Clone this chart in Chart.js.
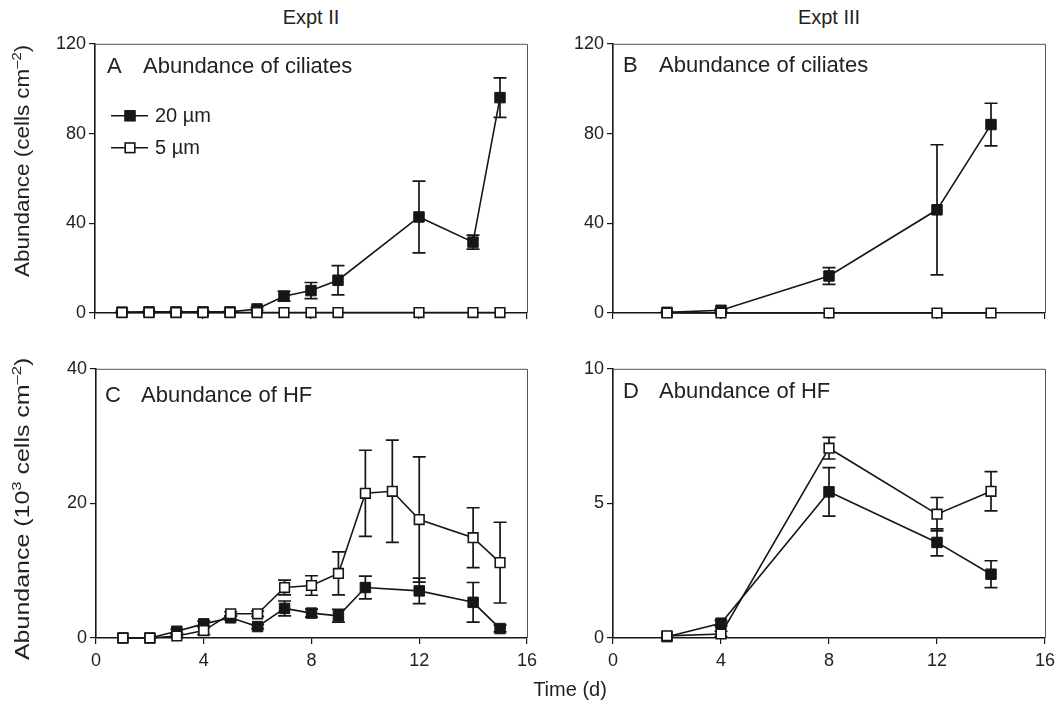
<!DOCTYPE html>
<html>
<head>
<meta charset="utf-8">
<title>Abundance of ciliates and HF</title>
<script src="https://cdn.jsdelivr.net/npm/chart.js@4.4.0/dist/chart.umd.min.js"></script>
<style>
  body { margin: 0; background: #fff; overflow: hidden; }
  #wrap { position: relative; width: 1056px; height: 711px; overflow: hidden; font-family: "Liberation Sans", Arial, sans-serif; color: #222; }
  canvas { position: absolute; }
  .lbl { position: absolute; font-size: 20px; white-space: nowrap; transform: translateX(-50%); }
</style>
</head>
<body>
<div id="wrap">
  <div class="lbl" style="left:311px; top:6px;">Expt II</div>
  <div class="lbl" style="left:829px; top:6px;">Expt III</div>
  <canvas id="cA" width="550" height="300" style="left:0; top:30px;"></canvas>
  <canvas id="cB" width="530" height="300" style="left:540px; top:30px;"></canvas>
  <canvas id="cC" width="550" height="325" style="left:0; top:355px;"></canvas>
  <canvas id="cD" width="530" height="325" style="left:540px; top:355px;"></canvas>
  <div class="lbl" style="left:570px; top:678px;">Time (d)</div>
</div>
<script>
// Expt II, ciliates (cells cm-2)
const daysA = [1, 2, 3, 4, 5, 6, 7, 8, 9, 12, 14, 15];
const ciliII20 = [0.4, 0.5, 0.5, 0.5, 0.5, 1.8, 7.5, 10, 14.6, 42.8, 31.6, 96];
const ciliII20Sd = [0.3, 0.3, 0.3, 0.3, 0.3, 0.6, 2.2, 3.6, 6.5, 16, 3.1, 8.8];
const ciliII5 = [0.2, 0.2, 0.2, 0.2, 0.2, 0.2, 0.2, 0.2, 0.2, 0.2, 0.2, 0.2];

// Expt III, ciliates
const daysB = [2, 4, 8, 12, 14];
const ciliIII20 = [0.3, 1.2, 16.5, 46, 84];
const ciliIII20Sd = [0.3, 0.5, 3.7, 29, 9.5];
const ciliIII5 = [0, 0, 0, 0, 0];

// Expt II, HF (10^3 cells cm-2)
const daysC5 = [1, 2, 3, 4, 5, 6, 7, 8, 9, 10, 11, 12, 14, 15];
const hfII5 = [0, 0, 0.3, 1.1, 3.6, 3.6, 7.5, 7.8, 9.6, 21.5, 21.8, 17.6, 14.9, 11.2];
const hfII5Sd = [0, 0, 0.2, 0.6, 0.3, 0.4, 1.1, 1.45, 3.2, 6.4, 7.6, 9.3, 4.45, 6];
const daysC20 = [1, 2, 3, 4, 5, 6, 7, 8, 9, 10, 12, 14, 15];
const hfII20 = [0, 0, 1.0, 2.1, 3.0, 1.7, 4.4, 3.7, 3.3, 7.5, 7.0, 5.3, 1.4];
const hfII20Sd = [0, 0, 0.3, 0.4, 0.3, 0.3, 1.1, 0.6, 0.95, 1.7, 1.9, 2.95, 0.5];

// Expt III, HF
const daysD = [2, 4, 8, 12, 14];
const hfIII5 = [0.08, 0.15, 7.05, 4.6, 5.45];
const hfIII5Sd = [0, 0.1, 0.4, 0.62, 0.73];
const hfIII20 = [0.05, 0.55, 5.43, 3.55, 2.37];
const hfIII20Sd = [0, 0.1, 0.9, 0.5, 0.5];

const xTicks = [0, 4, 8, 12, 16];
const ink = '#161616';
const fontFam = '"Liberation Sans", Arial, sans-serif';

Chart.defaults.font.family = fontFam;
Chart.defaults.color = '#222';

function pts(xs, ys) { return xs.map((x, i) => ({ x: x, y: ys[i] })); }

function open5(xs, ys, sd) {
  return { label: '5 µm', data: pts(xs, ys), sd: sd, borderColor: ink, borderWidth: 1.6,
    pointStyle: 'rect', pointRadius: 6.8, pointBackgroundColor: '#fff', pointBorderColor: ink,
    pointBorderWidth: 1.6, tension: 0, clip: false, order: 0 };
}
function filled20(xs, ys, sd) {
  return { label: '20 µm', data: pts(xs, ys), sd: sd, borderColor: ink, borderWidth: 1.6,
    pointStyle: 'rect', pointRadius: 7.4, pointBackgroundColor: ink, pointBorderColor: ink,
    pointBorderWidth: 1, tension: 0, clip: false, order: 1 };
}

// rotated axis title with superscripts, stretched along its length
function drawYTitle(ctx, t) {
  const size = 19.5, sup = 13;
  ctx.save();
  ctx.translate(t.cx, t.cy);
  ctx.rotate(-Math.PI / 2);
  ctx.scale(t.stretch, 1);
  let w = 0;
  t.segs.forEach(s => {
    ctx.font = (s.sup ? sup : size) + 'px ' + fontFam;
    s.w = ctx.measureText(s.t).width;
    w += s.w;
  });
  let x = -w / 2;
  ctx.fillStyle = '#222';
  ctx.textBaseline = 'alphabetic';
  t.segs.forEach(s => {
    ctx.font = (s.sup ? sup : size) + 'px ' + fontFam;
    ctx.fillText(s.t, x, s.sup ? -1 : 7);
    x += s.w;
  });
  ctx.restore();
}

// error bars, frame, panel letter, legend and y title
const decor = {
  id: 'decor',
  beforeDatasetsDraw(chart) {
    const { ctx } = chart, xs = chart.scales.x, ys = chart.scales.y;
    ctx.save();
    ctx.strokeStyle = ink;
    ctx.lineWidth = 1.7;
    chart.data.datasets.forEach(ds => {
      if (!ds.sd) return;
      ds.data.forEach((p, i) => {
        const s = ds.sd[i];
        if (!s) return;
        const px = xs.getPixelForValue(p.x);
        const t = ys.getPixelForValue(p.y + s), b = ys.getPixelForValue(p.y - s);
        ctx.beginPath();
        ctx.moveTo(px, t); ctx.lineTo(px, b);
        ctx.moveTo(px - 6.5, t); ctx.lineTo(px + 6.5, t);
        ctx.moveTo(px - 6.5, b); ctx.lineTo(px + 6.5, b);
        ctx.stroke();
      });
    });
    ctx.restore();
  },
  afterDraw(chart, args, opts) {
    const { ctx, chartArea: a } = chart;
    ctx.save();
    ctx.strokeStyle = '#555';
    ctx.lineWidth = 1;
    ctx.beginPath();
    ctx.moveTo(a.left, a.top + 0.5); ctx.lineTo(a.right + 0.5, a.top + 0.5); ctx.lineTo(a.right + 0.5, a.bottom);
    ctx.stroke();
    ctx.fillStyle = '#222';
    ctx.font = '22px ' + fontFam;
    ctx.textBaseline = 'alphabetic';
    ctx.fillText(opts.letter, a.left + opts.dx, a.top + opts.dy);
    ctx.fillText(opts.text, a.left + opts.dx + 36, a.top + opts.dy);
    if (opts.legend) {
      ctx.font = '20px ' + fontFam;
      ctx.textBaseline = 'middle';
      chart.data.datasets.slice().reverse().forEach((ds, k) => {
        const y = a.top + 72 + k * 32, x0 = a.left + 16;
        ctx.strokeStyle = ink; ctx.lineWidth = 1.6;
        ctx.beginPath(); ctx.moveTo(x0, y); ctx.lineTo(x0 + 37, y); ctx.stroke();
        const h = ds.pointRadius * Math.SQRT1_2;
        ctx.fillStyle = ds.pointBackgroundColor;
        ctx.fillRect(x0 + 19 - h, y - h, 2 * h, 2 * h);
        ctx.lineWidth = ds.pointBorderWidth;
        ctx.strokeRect(x0 + 19 - h, y - h, 2 * h, 2 * h);
        ctx.fillStyle = '#222';
        ctx.fillText(ds.label, x0 + 44, y + 1);
      });
    }
    ctx.restore();
    if (opts.yTitle) {
      drawYTitle(ctx, { segs: opts.yTitle.segs, cx: 22, cy: a.top + opts.yTitle.dy, stretch: opts.yTitle.stretch });
    }
  }
};

function makeChart(id, cfg) {
  const bottom = cfg.bottom;
  new Chart(document.getElementById(id), {
    type: 'line',
    data: { datasets: cfg.datasets },
    options: {
      responsive: false,
      animation: false,
      layout: { padding: { top: 13, right: cfg.padRight, bottom: bottom ? 0 : 7, left: 0 } },
      plugins: {
        legend: { display: false },
        tooltip: { enabled: false },
        decor: { letter: cfg.letter, text: cfg.text, dx: cfg.dx, dy: cfg.dy, legend: !!cfg.legend, yTitle: cfg.yTitle }
      },
      scales: {
        x: {
          type: 'linear', min: 0, max: 16,
          afterBuildTicks: s => { s.ticks = xTicks.map(v => ({ value: v })); },
          afterFit: s => { s.height = bottom ? 42 : 10; },
          border: { color: ink, width: 1.6 },
          grid: { drawOnChartArea: false, tickLength: 6, color: ink, lineWidth: 1.2 },
          ticks: { display: bottom, padding: 6, font: { size: 18 }, color: '#222' }
        },
        y: {
          min: 0, max: cfg.yMax,
          afterFit: s => { s.width = cfg.yWidth; },
          border: { color: ink, width: 1.6 },
          grid: { drawOnChartArea: false, tickLength: 6, color: ink, lineWidth: 1.2 },
          ticks: { stepSize: cfg.yStep, padding: 3, font: { size: 18 }, color: '#222' }
        }
      }
    },
    plugins: [decor]
  });
}

makeChart('cA', {
  datasets: [open5(daysA, ciliII5, null), filled20(daysA, ciliII20, ciliII20Sd)],
  yMax: 120, yStep: 40, yWidth: 95, padRight: 23, bottom: false,
  yTitle: { segs: [{ t: 'Abundance (cells cm' }, { t: '\u20132', sup: true }, { t: ')' }], dy: 117, stretch: 1.15 },
  letter: 'A', text: 'Abundance of ciliates', dx: 12, dy: 29, legend: true
});
makeChart('cB', {
  datasets: [open5(daysB, ciliIII5, null), filled20(daysB, ciliIII20, ciliIII20Sd)],
  yMax: 120, yStep: 40, yWidth: 73, padRight: 25, bottom: false,
  letter: 'B', text: 'Abundance of ciliates', dx: 10, dy: 28
});
makeChart('cC', {
  datasets: [open5(daysC5, hfII5, hfII5Sd), filled20(daysC20, hfII20, hfII20Sd)],
  yMax: 40, yStep: 20, yWidth: 96, padRight: 23, bottom: true,
  yTitle: { segs: [{ t: 'Abundance (10' }, { t: '3', sup: true }, { t: ' cells cm' }, { t: '\u20132', sup: true }, { t: ')' }], dy: 140, stretch: 1.28 },
  letter: 'C', text: 'Abundance of HF', dx: 9, dy: 33
});
makeChart('cD', {
  datasets: [open5(daysD, hfIII5, hfIII5Sd), filled20(daysD, hfIII20, hfIII20Sd)],
  yMax: 10, yStep: 5, yWidth: 73, padRight: 25, bottom: true,
  letter: 'D', text: 'Abundance of HF', dx: 10, dy: 29
});
</script>
</body>
</html>
